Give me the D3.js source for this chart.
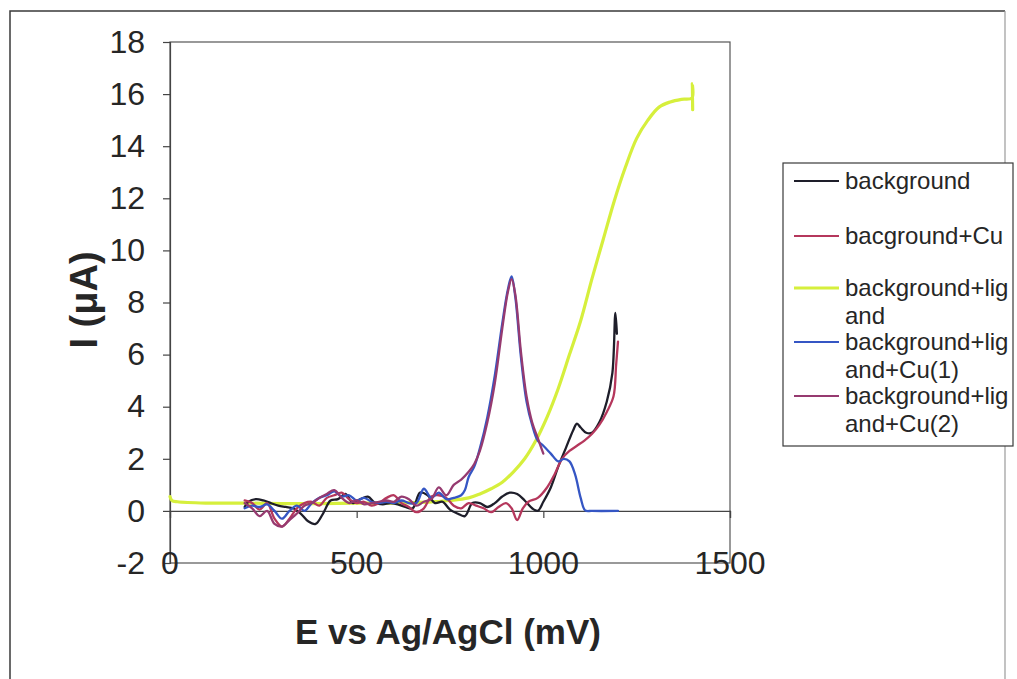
<!DOCTYPE html>
<html>
<head>
<meta charset="utf-8">
<script src="https://cdn.jsdelivr.net/npm/d3@7"></script>
<style>
  html, body { margin: 0; padding: 0; background: #ffffff; }
  svg { display: block; font-family: "Liberation Sans", Arial, sans-serif; }
</style>
</head>
<body>
<svg id="chart" width="1017" height="679"></svg>
<script>
// Potential (mV vs Ag/AgCl) and current (µA) for each voltammogram
const seriesNames = [
  "background",
  "bacground+Cu",
  "background+ligand",
  "background+ligand+Cu(1)",
  "background+ligand+Cu(2)"
];
const legendLines = [
  ["background"],
  ["bacground+Cu"],
  ["background+lig", "and"],
  ["background+lig", "and+Cu(1)"],
  ["background+lig", "and+Cu(2)"]
];
const seriesColors = ["#1e1e2a", "#b5375c", "#d6ef3c", "#3556c4", "#963a70"];

const background = [
  [200,0.15],[210,0.35],[230,0.45],[250,0.4],[270,0.3],[290,0.2],[310,0.15],[330,0.1],
  [350,-0.1],[370,-0.4],[390,-0.5],[410,-0.1],[430,0.4],[450,0.45],[470,0.65],[490,0.3],
  [510,0.45],[530,0.55],[550,0.3],[570,0.25],[590,0.3],[610,0.25],[630,0.15],[650,0.1],
  [670,0.7],[690,0.6],[710,0.3],[730,0.35],[750,0.05],[770,-0.1],[790,-0.2],[810,0.3],
  [830,0.3],[850,0.15],[870,0.3],[890,0.55],[910,0.7],[930,0.65],[950,0.4],[970,0.1],
  [985,0.0],[1000,0.35],[1020,0.9],[1040,1.7],[1060,2.4],[1080,3.1],[1090,3.35],[1100,3.2],
  [1115,3.0],[1130,3.0],[1150,3.4],[1170,4.2],[1185,5.3],[1193,7.6],[1197,6.8]
];
const backgroundCu = [
  [200,0.4],[220,0.3],[240,0.05],[260,0.3],[280,-0.3],[300,-0.6],[320,-0.3],[340,0.1],
  [360,0.3],[380,0.35],[400,0.2],[420,0.5],[440,0.6],[460,0.7],[480,0.45],[500,0.3],
  [520,0.35],[540,0.2],[560,0.3],[580,0.5],[600,0.6],[620,0.3],[640,0.15],[660,-0.05],
  [680,0.1],[700,0.55],[720,0.6],[740,0.5],[760,0.2],[780,0.1],[800,0.3],[820,0.2],
  [840,0.1],[860,-0.05],[880,0.15],[900,0.3],[915,0.1],[930,-0.35],[945,0.1],[960,0.35],
  [985,0.5],[1010,0.9],[1030,1.4],[1050,2.0],[1070,2.3],[1090,2.5],[1110,2.7],[1130,2.95],
  [1150,3.3],[1170,3.8],[1188,4.4],[1195,5.6],[1200,6.5]
];
const backgroundLigand = [
  [0,0.55],[5,0.4],[20,0.35],[100,0.3],[200,0.3],[300,0.28],[400,0.28],[500,0.3],
  [600,0.3],[650,0.32],[700,0.35],[750,0.4],[800,0.5],[830,0.65],[860,0.85],[890,1.1],
  [920,1.5],[950,2.0],[980,2.7],[1010,3.6],[1040,4.7],[1070,6.0],[1100,7.3],[1130,8.9],
  [1160,10.4],[1190,11.9],[1220,13.2],[1250,14.3],[1280,15.0],[1310,15.5],[1340,15.7],
  [1370,15.8],[1398,15.85],[1399,16.4],[1400,15.4]
];
const ligandCu1 = [
  [200,0.1],[220,0.2],[240,0.15],[260,0.25],[280,0.0],[300,-0.3],[320,0.0],[340,0.2],
  [360,0.0],[380,0.3],[400,0.5],[420,0.6],[440,0.75],[460,0.55],[480,0.6],[500,0.4],
  [520,0.5],[540,0.35],[560,0.3],[580,0.35],[600,0.3],[620,0.4],[640,0.3],[660,0.3],
  [680,0.85],[700,0.5],[720,0.7],[740,0.45],[760,0.5],[780,0.6],[790,0.8],[800,1.3],
  [815,1.7],[830,2.4],[850,3.6],[870,5.2],[890,7.2],[905,8.5],[915,9.0],[925,8.2],
  [940,5.9],[955,4.2],[970,3.3],[985,2.7],[1000,2.5],[1020,2.2],[1040,1.9],[1055,2.0],
  [1070,1.9],[1085,1.4],[1100,0.5],[1112,0.02],[1130,0.0],[1200,0.0]
];
const ligandCu2 = [
  [200,0.3],[220,0.1],[240,-0.2],[260,0.0],[280,-0.5],[300,-0.6],[320,-0.35],[340,-0.1],
  [360,0.2],[380,0.3],[400,0.5],[420,0.65],[440,0.8],[460,0.5],[480,0.3],[500,0.4],
  [520,0.25],[540,0.3],[560,0.35],[580,0.4],[600,0.35],[620,0.55],[640,0.45],[660,0.2],
  [680,0.35],[700,0.45],[720,0.9],[740,0.6],[760,1.0],[780,1.2],[800,1.5],[815,1.8],
  [830,2.3],[850,3.4],[870,4.9],[890,7.0],[905,8.4],[915,8.9],[925,8.3],[940,6.1],
  [955,4.4],[970,3.4],[985,2.8],[1000,2.2]
];
const seriesData = [background, backgroundCu, backgroundLigand, ligandCu1, ligandCu2];
const seriesWidths = [2.3, 2.3, 3.2, 2.3, 2.3];

const xTicks = [0, 500, 1000, 1500];
const yTicks = [-2, 0, 2, 4, 6, 8, 10, 12, 14, 16, 18];

const svg = d3.select("#chart");
const ink = "#262626";

// outer chart frame
svg.append("path")
  .attr("d", "M10,680 L10,11 L1005,11")
  .attr("fill", "none").attr("stroke", "#3a3a3a").attr("stroke-width", 1.5);
svg.append("line")
  .attr("x1", 1005).attr("x2", 1005).attr("y1", 11).attr("y2", 680)
  .attr("stroke", "#9a9a9a").attr("stroke-width", 1.2);

const plot = { left: 170, right: 730, top: 42, bottom: 563 };
const x = d3.scaleLinear().domain([0, 1500]).range([plot.left, plot.right]);
const y = d3.scaleLinear().domain([-2, 18]).range([plot.bottom, plot.top]);

// plot area border
svg.append("rect")
  .attr("x", plot.left).attr("y", plot.top)
  .attr("width", plot.right - plot.left).attr("height", plot.bottom - plot.top)
  .attr("fill", "none").attr("stroke", "#555").attr("stroke-width", 1.2);

// vertical axis with outward ticks
const yAxis = svg.append("g")
  .attr("transform", `translate(${plot.left},0)`)
  .call(d3.axisLeft(y).tickValues(yTicks).tickSize(7).tickPadding(18).tickFormat(d => String(d)));
yAxis.select(".domain").attr("stroke", "#444").attr("stroke-width", 1.2);
yAxis.selectAll(".tick line").attr("stroke", "#444").attr("stroke-width", 1.2);
yAxis.selectAll(".tick text")
  .attr("fill", ink).attr("font-size", 32).attr("font-family", "Liberation Sans, Arial, sans-serif");

// horizontal axis crossing at zero, ticks downward
const xAxis = svg.append("g")
  .attr("transform", `translate(0,${y(0)})`)
  .call(d3.axisBottom(x).tickValues(xTicks).tickSize(7).tickFormat(""));
xAxis.select(".domain").attr("stroke", "#444").attr("stroke-width", 1.2);
xAxis.selectAll(".tick line").attr("stroke", "#444").attr("stroke-width", 1.2);

// horizontal tick labels sit on the lower edge of the plot
svg.append("g").selectAll("text")
  .data(xTicks).join("text")
  .attr("x", d => x(d)).attr("y", plot.bottom + 11)
  .attr("text-anchor", "middle")
  .attr("font-size", 32).attr("fill", ink)
  .text(d => String(d));

// axis titles
svg.append("text")
  .attr("x", 448).attr("y", 644)
  .attr("text-anchor", "middle")
  .attr("font-size", 35).attr("font-weight", "bold").attr("fill", ink)
  .text("E vs Ag/AgCl (mV)");
svg.append("text")
  .attr("transform", "translate(97,300) rotate(-90)")
  .attr("text-anchor", "middle")
  .attr("font-size", 38).attr("font-weight", "bold").attr("fill", ink)
  .text("I (μA)");

// curves
const line = d3.line()
  .x(d => x(d[0])).y(d => y(d[1]))
  .curve(d3.curveCatmullRom.alpha(0.5));
const drawOrder = [2, 0, 1, 3, 4];
svg.append("g").selectAll("path")
  .data(drawOrder).join("path")
  .attr("d", i => line(seriesData[i]))
  .attr("fill", "none")
  .attr("stroke", i => seriesColors[i])
  .attr("stroke-width", i => seriesWidths[i])
  .attr("stroke-linejoin", "round").attr("stroke-linecap", "round");

// legend
const legend = svg.append("g");
legend.append("rect")
  .attr("x", 783).attr("y", 163).attr("width", 230).attr("height", 283)
  .attr("fill", "#fff").attr("stroke", "#3a3a3a").attr("stroke-width", 1.2);
const legendY = [181, 236, 288, 342, 396];
legendLines.forEach((lines, i) => {
  const g = legend.append("g").attr("transform", `translate(0,${legendY[i]})`);
  g.append("line")
    .attr("x1", 794).attr("x2", 839).attr("y1", 0).attr("y2", 0)
    .attr("stroke", seriesColors[i]).attr("stroke-width", i === 2 ? 3 : 2);
  lines.forEach((t, k) => {
    g.append("text")
      .attr("x", 845).attr("y", 8 + k * 28)
      .attr("font-size", 24).attr("fill", ink)
      .text(t);
  });
});
</script>
</body>
</html>
